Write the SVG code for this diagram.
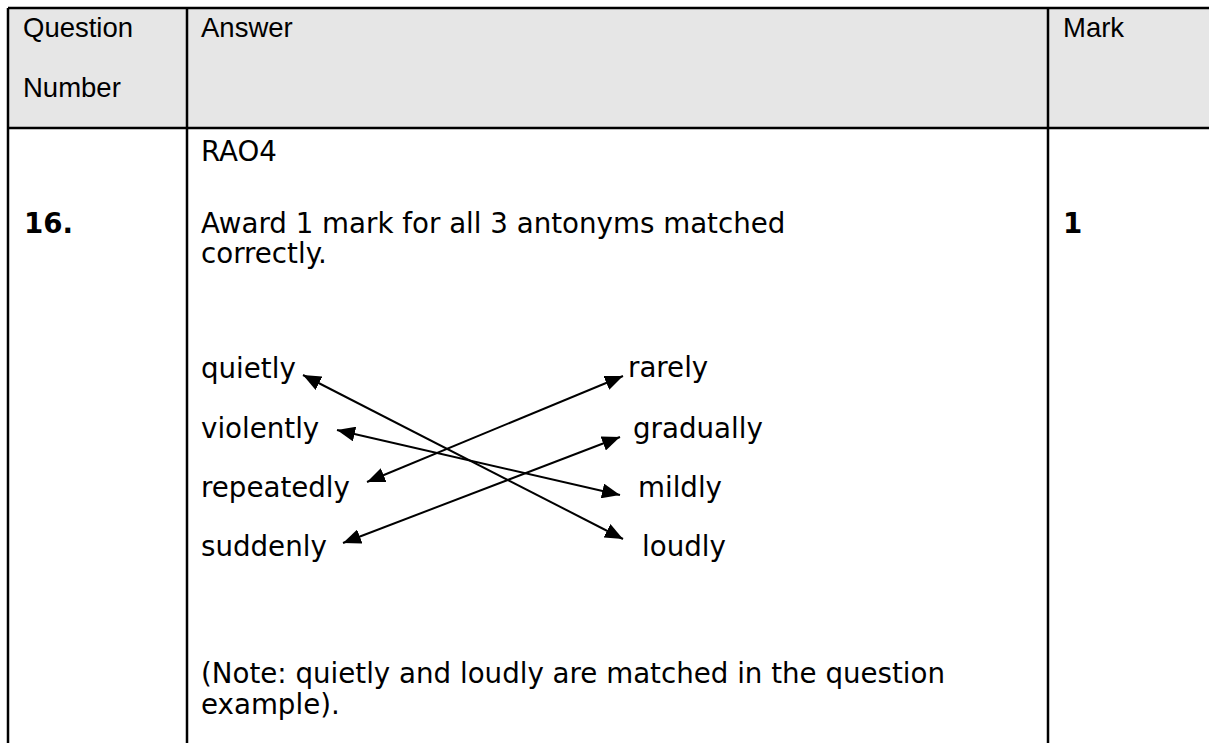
<svg xmlns="http://www.w3.org/2000/svg" width="1209" height="743" viewBox="0 0 1209 743">
<style>
.hdr{font-family:"Liberation Sans",Arial,sans-serif;font-size:27.5px;fill:#000}
.body{font-family:"DejaVu Sans",Verdana,sans-serif;font-size:27.7px;fill:#000}
.bold{font-weight:bold}
.grid{stroke:#000;stroke-width:2.5;fill:none}
.conn{stroke:#000;stroke-width:2;fill:none;marker-start:url(#ah);marker-end:url(#ah)}
</style>
<defs>
<marker id="ah" viewBox="0 0 18 15" refX="18" refY="7.5" markerWidth="18" markerHeight="15" markerUnits="userSpaceOnUse" orient="auto-start-reverse">
<path d="M0,0 L18,7.5 L0,15 Z" fill="#000"/>
</marker>
</defs>
<g id="table">
<rect x="8" y="8" width="1201" height="120" fill="#e6e6e6"/>
<line class="grid" x1="8" y1="8" x2="1209" y2="8"/>
<line class="grid" x1="8" y1="128" x2="1209" y2="128"/>
<line class="grid" x1="8" y1="8" x2="8" y2="743"/>
<line class="grid" x1="187" y1="8" x2="187" y2="743"/>
<line class="grid" x1="1048" y1="8" x2="1048" y2="743"/>
</g>
<g id="header">
<text class="hdr" x="23" y="37">Question</text>
<text class="hdr" x="23" y="97">Number</text>
<text class="hdr" x="201" y="37">Answer</text>
<text class="hdr" x="1063" y="37">Mark</text>
</g>
<g id="body">
<text class="body" x="201" y="161">RAO4</text>
<text class="body bold" x="24" y="233">16.</text>
<text class="body" x="201" y="233">Award 1 mark for all 3 antonyms matched</text>
<text class="body" x="201" y="263">correctly.</text>
<text class="body bold" x="1063" y="233">1</text>
<text class="body" x="201" y="683">(Note: quietly and loudly are matched in the question</text>
<text class="body" x="201" y="714">example).</text>
</g>
<g id="left-words">
<text id="quietly" class="body" x="201" y="378">quietly</text>
<text id="violently" class="body" x="201" y="438">violently</text>
<text id="repeatedly" class="body" x="201" y="497">repeatedly</text>
<text id="suddenly" class="body" x="201" y="556">suddenly</text>
</g>
<g id="right-words">
<text id="rarely" class="body" x="628" y="377">rarely</text>
<text id="gradually" class="body" x="633" y="438">gradually</text>
<text id="mildly" class="body" x="638" y="497">mildly</text>
<text id="loudly" class="body" x="642" y="556">loudly</text>
</g>
<g id="connectors">
<line class="conn" x1="303" y1="375" x2="623" y2="539"/>
<line class="conn" x1="337" y1="430" x2="620" y2="495"/>
<line class="conn" x1="367" y1="482" x2="623" y2="376"/>
<line class="conn" x1="343" y1="543" x2="620" y2="437"/>
</g>
</svg>
